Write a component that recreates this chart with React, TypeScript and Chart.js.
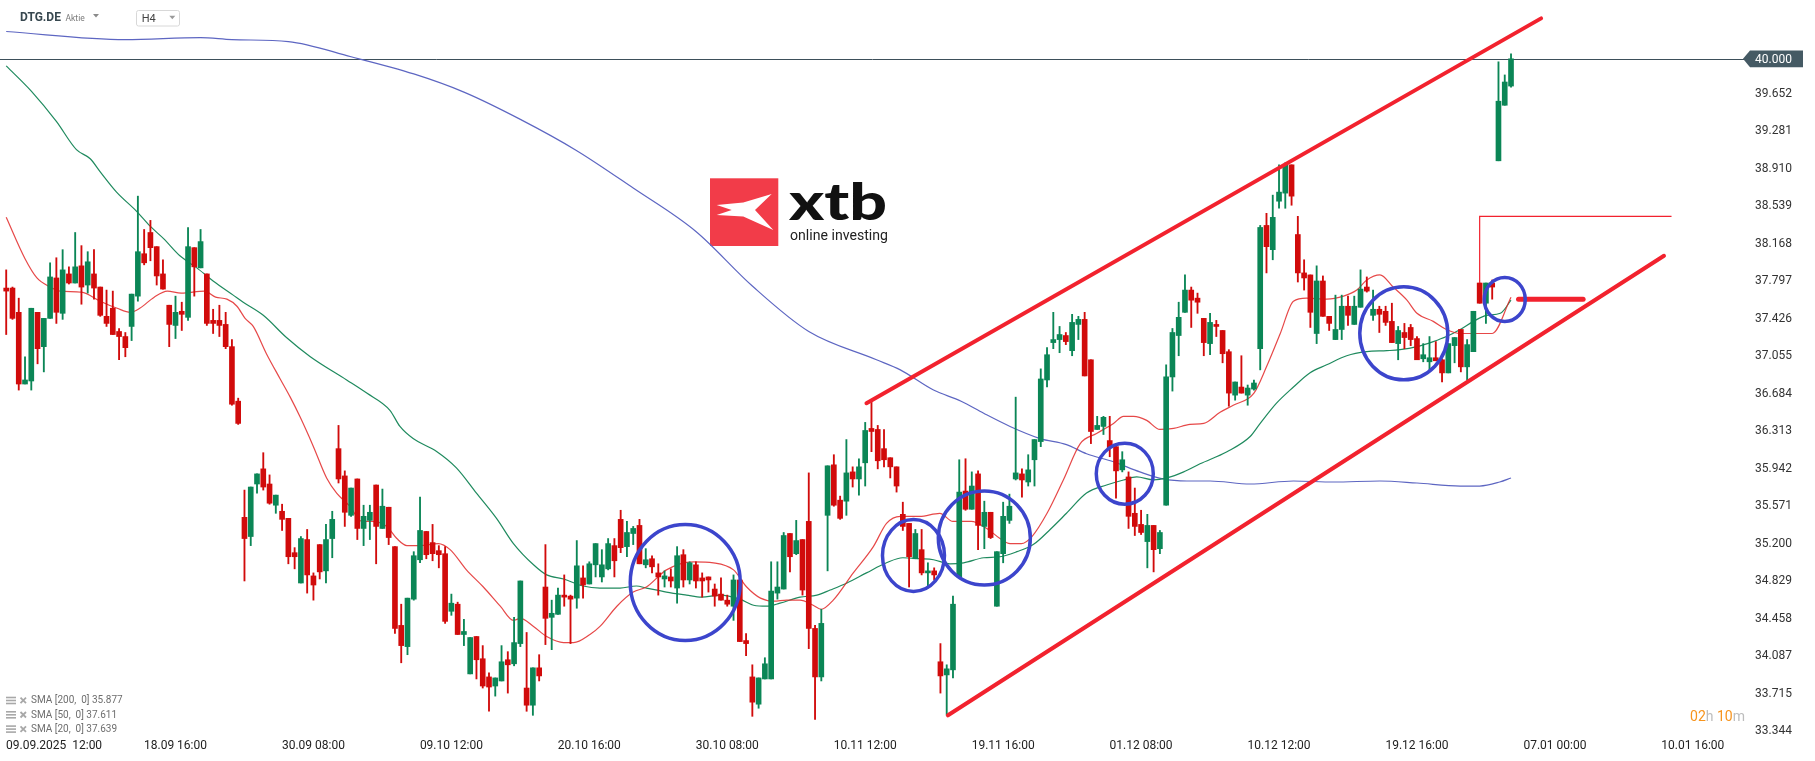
import React, { useEffect, useRef } from "react";
import { Chart, registerables } from "chart.js";

Chart.register(...registerables);

// ---------- DATA (H4 candles, index 0 = first visible candle) ----------
const opens = [
  37.73, 37.73, 37.49, 36.78, 36.81, 37.49, 37.15, 37.43, 37.83, 37.48,
  37.87, 37.78, 37.95, 37.76, 37.87, 37.74, 37.45, 37.53, 37.30, 37.25,
  37.35, 37.65, 38.07, 38.28, 38.14, 37.87, 37.56, 37.36, 37.50, 37.44,
  38.13, 37.93, 37.87, 37.41, 37.41, 37.37, 37.15, 36.61, 35.46, 35.27,
  35.79, 35.94, 35.79, 35.58, 35.52, 35.45, 35.11, 34.81, 35.24, 34.88,
  35.19, 34.93, 35.25, 36.14, 35.87, 35.48, 35.84, 35.35, 35.43, 35.78,
  35.35, 35.56, 35.17, 34.39, 34.18, 34.65, 35.04, 35.32, 35.21, 35.13,
  35.10, 34.53, 34.60, 34.30, 33.91, 34.28, 34.06, 33.88, 33.79, 33.84,
  34.05, 34.01, 34.21, 33.77, 33.60, 33.97, 34.77, 34.47, 34.50, 34.69,
  34.68, 34.66, 34.86, 34.80, 34.99, 34.87, 34.95, 35.18, 35.44, 35.17,
  35.30, 35.38, 34.99, 35.05, 34.91, 34.85, 34.87, 34.76, 35.09, 34.84,
  34.99, 34.86, 34.87, 34.75, 34.70, 34.64, 34.58, 34.84, 34.24, 33.88,
  33.61, 33.86, 33.86, 34.71, 34.75, 35.30, 35.10, 35.24, 35.42, 34.36,
  33.88, 35.48, 35.98, 35.63, 35.62, 35.91, 35.84, 36.00, 36.34, 36.33,
  36.14, 36.05, 35.96, 35.49, 35.40, 35.05, 35.14, 34.91, 34.93, 34.03,
  33.90, 33.95, 34.87, 35.72, 35.54, 35.89, 35.37, 35.51, 34.58, 35.10,
  35.43, 35.84, 35.89, 35.81, 36.03, 36.21, 36.82, 37.19, 37.22, 37.26,
  37.11, 37.37, 37.42, 37.02, 36.33, 36.36, 36.22, 36.16, 35.93, 35.86,
  35.50, 35.39, 35.22, 35.38, 35.15, 35.58, 36.85, 37.26, 37.49, 37.71,
  37.63, 37.43, 37.18, 37.37, 37.31, 37.10, 36.67, 36.75, 36.67, 36.73,
  37.13, 38.35, 38.11, 38.59, 38.67, 38.95, 38.26, 37.88, 37.86, 37.28,
  37.80, 37.45, 37.22, 37.32, 37.55, 37.37, 37.54, 37.74, 37.46, 37.52,
  37.50, 37.40, 37.18, 37.29, 37.34, 37.23, 37.03, 37.00, 37.04, 37.02,
  36.89, 37.16, 37.32, 36.95, 37.10, 37.78, 37.58, 37.78, 38.99, 39.54,
  39.73,
];
const highs = [
  37.91, 37.74, 37.63, 37.05, 37.53, 37.49, 37.43, 37.98, 38.03, 38.11,
  37.94, 38.28, 38.15, 38.09, 38.11, 37.74, 37.71, 37.70, 37.33, 37.29,
  37.67, 38.64, 38.31, 38.40, 38.14, 38.01, 37.56, 37.65, 37.59, 38.33,
  38.13, 38.31, 37.87, 37.52, 37.56, 37.49, 37.22, 36.64, 35.73, 35.76,
  35.89, 36.10, 35.88, 35.68, 35.59, 35.45, 35.16, 35.27, 35.34, 34.91,
  35.19, 35.39, 35.52, 36.37, 35.92, 35.75, 35.84, 35.58, 35.58, 35.78,
  35.74, 35.56, 35.17, 34.60, 34.66, 35.12, 35.66, 35.32, 35.39, 35.18,
  35.17, 34.70, 34.62, 34.45, 34.27, 34.28, 34.19, 33.92, 33.87, 34.19,
  34.13, 34.47, 34.83, 34.32, 33.97, 34.10, 35.19, 34.64, 34.76, 34.89,
  34.69, 35.23, 34.98, 35.02, 35.20, 35.14, 35.25, 35.25, 35.53, 35.42,
  35.37, 35.44, 35.15, 35.08, 35.00, 34.93, 34.95, 35.17, 35.14, 35.02,
  35.02, 34.91, 34.87, 34.80, 34.86, 34.69, 34.89, 34.84, 34.31, 34.00,
  33.87, 34.07, 35.02, 35.02, 35.31, 35.30, 35.43, 35.24, 35.90, 34.39,
  34.55, 35.97, 36.08, 35.67, 36.23, 35.96, 36.04, 36.40, 36.61, 36.37,
  36.33, 36.05, 35.96, 35.61, 35.40, 35.34, 35.34, 35.01, 34.96, 34.21,
  34.00, 34.68, 36.03, 36.04, 35.91, 35.92, 35.62, 35.51, 35.12, 35.61,
  35.69, 36.65, 35.94, 36.08, 36.23, 36.93, 37.14, 37.49, 37.35, 37.29,
  37.47, 37.45, 37.49, 37.02, 36.46, 36.46, 36.46, 36.19, 36.11, 35.91,
  35.75, 35.53, 35.49, 35.38, 35.33, 36.97, 37.33, 37.59, 37.86, 37.74,
  37.68, 37.43, 37.48, 37.41, 37.31, 37.12, 36.80, 37.06, 36.77, 36.82,
  38.35, 38.47, 38.65, 38.95, 38.97, 38.95, 38.44, 38.01, 37.86, 37.95,
  37.85, 37.45, 37.66, 37.66, 37.65, 37.65, 37.91, 37.84, 37.71, 37.55,
  37.55, 37.58, 37.35, 37.38, 37.37, 37.25, 37.18, 37.25, 37.20, 37.03,
  37.18, 37.24, 37.32, 37.22, 37.50, 37.78, 37.78, 37.81, 39.97, 39.84,
  40.05,
];
const lows = [
  37.27, 37.42, 36.72, 36.78, 36.72, 36.98, 36.90, 37.43, 37.38, 37.42,
  37.77, 37.78, 37.57, 37.68, 37.62, 37.45, 37.35, 37.27, 37.02, 37.05,
  37.21, 37.60, 37.96, 38.00, 37.76, 37.72, 37.15, 37.23, 37.31, 37.41,
  37.65, 37.93, 37.36, 37.28, 37.25, 37.13, 36.57, 36.38, 34.83, 35.18,
  35.70, 35.73, 35.59, 35.50, 35.33, 35.00, 34.95, 34.81, 34.71, 34.64,
  34.85, 34.81, 35.06, 35.80, 35.37, 35.47, 35.24, 35.18, 35.24, 35.00,
  35.35, 35.19, 34.31, 34.02, 34.10, 34.64, 35.01, 35.05, 35.03, 34.96,
  34.41, 34.49, 34.30, 34.19, 33.91, 33.86, 33.77, 33.54, 33.69, 33.84,
  33.72, 33.99, 34.18, 33.54, 33.50, 33.84, 34.20, 34.15, 34.50, 34.58,
  34.21, 34.56, 34.66, 34.80, 34.87, 34.82, 34.94, 34.87, 35.11, 35.07,
  35.19, 35.00, 34.96, 34.91, 34.69, 34.77, 34.77, 34.61, 34.77, 34.80,
  34.76, 34.67, 34.72, 34.58, 34.64, 34.58, 34.44, 34.23, 34.09, 33.49,
  33.57, 33.86, 33.86, 34.65, 34.75, 34.92, 35.09, 34.69, 34.16, 33.46,
  33.84, 34.93, 35.57, 35.44, 35.48, 35.76, 35.68, 35.77, 36.11, 35.94,
  35.96, 35.85, 35.71, 35.33, 34.77, 35.05, 34.89, 34.76, 34.84, 33.72,
  33.50, 33.87, 34.87, 35.53, 35.54, 35.14, 35.15, 35.25, 34.58, 35.01,
  35.40, 35.83, 35.66, 35.77, 35.77, 36.16, 36.75, 37.13, 37.09, 37.17,
  37.06, 37.22, 36.86, 36.19, 36.33, 36.28, 36.06, 35.65, 35.91, 35.35,
  35.28, 35.29, 34.96, 34.92, 35.10, 35.58, 36.71, 37.06, 37.49, 37.34,
  37.48, 37.06, 37.07, 37.25, 36.99, 36.56, 36.62, 36.69, 36.57, 36.72,
  36.92, 37.88, 38.01, 38.52, 38.52, 38.55, 37.79, 37.71, 37.34, 37.18,
  37.45, 37.31, 37.22, 37.22, 37.36, 37.37, 37.54, 37.69, 37.41, 37.29,
  37.36, 37.19, 37.02, 37.13, 37.16, 37.02, 37.00, 36.92, 37.01, 36.80,
  36.89, 36.99, 36.90, 36.82, 37.10, 37.58, 37.38, 37.62, 38.99, 39.54,
  39.72,
];
const closes = [
  37.70, 37.43, 36.78, 36.82, 37.53, 37.13, 37.43, 37.84, 37.49, 37.91,
  37.78, 37.94, 37.74, 37.99, 37.73, 37.46, 37.38, 37.27, 37.25, 37.14,
  37.67, 38.09, 37.98, 38.13, 37.85, 37.72, 37.37, 37.49, 37.47, 38.14,
  37.94, 38.19, 37.38, 37.38, 37.36, 37.15, 36.58, 36.39, 35.25, 35.76,
  35.89, 35.76, 35.60, 35.68, 35.44, 35.07, 35.07, 35.25, 34.89, 34.79,
  34.92, 35.24, 35.44, 35.84, 35.51, 35.75, 35.35, 35.47, 35.51, 35.37,
  35.57, 35.26, 34.36, 34.19, 34.66, 35.08, 35.33, 35.09, 35.10, 35.09,
  34.43, 34.61, 34.30, 34.33, 34.27, 34.05, 33.79, 33.78, 33.87, 34.03,
  34.00, 34.22, 34.83, 33.60, 33.97, 33.89, 34.46, 34.51, 34.69, 34.67,
  34.65, 34.98, 34.79, 35.00, 35.20, 34.99, 35.20, 35.03, 35.16, 35.31,
  35.35, 35.00, 35.04, 34.97, 34.87, 34.88, 34.83, 35.08, 34.84, 35.01,
  34.83, 34.83, 34.84, 34.68, 34.64, 34.60, 34.84, 34.23, 34.21, 33.63,
  33.87, 34.01, 34.73, 34.77, 35.28, 35.07, 35.23, 34.74, 34.36, 33.88,
  34.41, 35.97, 35.58, 35.45, 35.90, 35.84, 35.96, 36.32, 36.31, 36.02,
  36.03, 35.96, 35.77, 35.37, 35.07, 35.30, 34.91, 34.93, 34.89, 33.89,
  33.96, 34.60, 35.71, 35.54, 35.77, 35.38, 35.51, 35.26, 35.12, 35.47,
  35.57, 35.90, 35.83, 35.93, 36.23, 36.83, 37.07, 37.22, 37.27, 37.20,
  37.39, 37.42, 36.86, 36.31, 36.37, 36.45, 36.15, 35.92, 36.03, 35.47,
  35.37, 35.31, 35.38, 35.14, 35.31, 36.85, 37.29, 37.44, 37.71, 37.61,
  37.59, 37.19, 37.39, 37.35, 37.08, 36.69, 36.80, 36.69, 36.74, 36.79,
  38.33, 38.14, 38.43, 38.68, 38.95, 38.64, 37.88, 37.83, 37.49, 37.80,
  37.45, 37.38, 37.32, 37.55, 37.46, 37.55, 37.72, 37.70, 37.52, 37.47,
  37.39, 37.19, 37.31, 37.24, 37.22, 37.02, 37.07, 37.04, 37.01, 36.89,
  37.18, 37.24, 36.95, 37.17, 37.50, 37.58, 37.78, 37.74, 39.58, 39.77,
  40.00,
];

// moving averages: [candle index, value]
const sma200 = [
  [0, 40.27], [19, 40.19], [31, 40.21], [36, 40.19], [45, 40.17], [55, 40.02],
  [65, 39.85], [73, 39.67], [82, 39.40], [91, 39.09], [100, 38.72], [110, 38.29],
  [119, 37.75], [128, 37.30], [138.8, 37.02], [142.6, 36.92], [147.9, 36.72],
  [152.3, 36.61], [155.9, 36.49], [160.1, 36.36], [164.9, 36.24], [169.1, 36.18],
  [172.3, 36.09], [176.6, 36.01], [180.8, 35.91], [184.5, 35.84], [188.3, 35.82],
  [192, 35.82], [198.4, 35.79], [205.3, 35.82], [211.7, 35.81], [219.1, 35.82],
  [225, 35.80], [231.9, 35.77], [235, 35.77], [238.2, 35.81], [240, 35.85],
];
const sma50 = [
  [0, 39.93], [4, 39.68], [8, 39.38], [11.2, 39.10], [13.4, 39.01], [15, 38.88],
  [17.6, 38.68], [20.8, 38.49], [23, 38.34], [25.1, 38.22], [27.7, 38.05],
  [30.4, 37.93], [33, 37.80], [36.2, 37.66], [37.8, 37.59], [41, 37.46],
  [44.7, 37.24], [48.5, 37.05], [54.3, 36.82], [57.5, 36.69], [61.2, 36.52],
  [62.8, 36.36], [64.9, 36.24], [68.7, 36.11], [71.8, 35.95], [75, 35.70],
  [78.2, 35.45], [80.9, 35.20], [84.1, 34.99], [86.2, 34.89], [88.9, 34.85],
  [92, 34.78], [94.7, 34.76], [97.9, 34.76], [100.5, 34.78], [102.1, 34.76],
  [105.3, 34.72], [108.5, 34.69], [110.9, 34.67], [113.9, 34.69], [117, 34.65],
  [119.2, 34.59], [121.3, 34.58], [123.4, 34.61], [126.6, 34.67], [129.3, 34.69],
  [131.4, 34.74], [134.1, 34.81], [137.2, 34.91], [140.4, 35.01], [143, 35.06],
  [145.7, 35.05], [147.9, 35.04], [150.5, 35.00], [152.7, 35.01], [155.9, 35.06],
  [158.5, 35.07], [161.2, 35.12], [163.8, 35.19], [166.5, 35.34], [169.1, 35.50],
  [172.3, 35.70], [175.5, 35.78], [178.2, 35.83], [180.3, 35.86], [183, 35.83],
  [185.1, 35.85], [187.8, 35.91], [190.4, 35.99], [194.7, 36.11], [198.4, 36.26],
  [200, 36.39], [202.6, 36.59], [205.3, 36.75], [207.9, 36.89], [210.6, 36.97],
  [213.8, 37.06], [217, 37.10], [220.2, 37.11], [222.3, 37.12], [225, 37.15],
  [227.6, 37.20], [229.7, 37.25], [231.9, 37.32], [234, 37.40], [236.1, 37.46],
  [238.3, 37.48], [240, 37.61],
];
const sma20 = [
  [0, 38.43], [3, 38.02], [4.9, 37.83], [7, 37.74], [8.6, 37.70], [12, 37.69],
  [15, 37.60], [17.7, 37.53], [19.8, 37.49], [21.3, 37.53], [23.6, 37.64],
  [25.7, 37.70], [27.9, 37.68], [31.6, 37.70], [33.4, 37.64], [35.2, 37.62],
  [36.8, 37.55], [38.1, 37.43], [39.4, 37.35], [41.5, 37.08], [43.7, 36.83],
  [45.3, 36.65], [46.9, 36.45], [49, 36.16], [51.1, 35.85], [52.7, 35.70],
  [54.8, 35.57], [56.7, 35.42], [58.3, 35.42], [60.7, 35.37], [62.3, 35.25],
  [63.9, 35.18], [66, 35.18], [68.9, 35.20], [70.8, 35.14], [73.4, 34.94],
  [76.1, 34.77], [78.8, 34.58], [80.9, 34.44], [82, 34.46], [84.1, 34.38],
  [86.2, 34.28], [88.9, 34.22], [90.5, 34.22], [93.1, 34.30], [94.7, 34.38],
  [97.4, 34.58], [100, 34.72], [102.1, 34.77], [105.3, 34.94], [109.6, 35.02],
  [112.8, 35.01], [116, 34.94], [118.1, 34.77], [120.3, 34.66], [122.4, 34.63],
  [124.5, 34.64], [126.6, 34.64], [128.7, 34.59], [130, 34.55], [131.9, 34.64],
  [135.1, 34.91], [138.3, 35.17], [140.4, 35.40], [142.6, 35.47], [145.7, 35.47],
  [148.9, 35.50], [151, 35.42], [153.9, 35.42], [156.4, 35.35], [158.5, 35.25],
  [160.1, 35.20], [161.9, 35.20], [163.6, 35.27], [166, 35.50], [168.6, 35.83],
  [171.3, 36.19], [173.9, 36.29], [176.6, 36.39], [178.2, 36.46], [179.8, 36.46],
  [181.9, 36.42], [184, 36.33], [186.2, 36.34], [188.8, 36.38], [191, 36.39],
  [193.6, 36.50], [195.7, 36.57], [199, 36.69], [201, 36.95], [203.2, 37.28],
  [205.3, 37.60], [207.4, 37.63], [210.6, 37.62], [213.3, 37.65], [215.4, 37.71],
  [217, 37.81], [219.1, 37.86], [221.2, 37.74], [223.4, 37.61], [225, 37.48],
  [227.6, 37.40], [229.7, 37.32], [231.9, 37.28], [237, 37.28], [240, 37.64],
];

// axis ticks
const xTickIdx = [5, 27, 49, 71, 93, 115, 137, 159, 181, 203, 225, 247, 269];
const xTickLabels = [
  "09.09.2025  12:00", "18.09 16:00", "30.09 08:00", "09.10 12:00", "20.10 16:00",
  "30.10 08:00", "10.11 12:00", "19.11 16:00", "01.12 08:00", "10.12 12:00",
  "19.12 16:00", "07.01 00:00", "10.01 16:00",
];
const yTicks = [
  39.652, 39.281, 38.91, 38.539, 38.168, 37.797, 37.426, 37.055, 36.684,
  36.313, 35.942, 35.571, 35.2, 34.829, 34.458, 34.087, 33.715, 33.344,
];

// drawings on the chart: [candle index, price]
const upperChannel = [[137.2, 36.59], [244.8, 40.40]];
const lowerChannel = [[150.2, 33.50], [264.4, 38.05]];
const markerLine = [[235, 37.78], [235, 38.44], [265.6, 38.44]];
const targetStub = [[241.2, 37.62], [251.5, 37.62]];
const circleCenters = [
  [108.3, 34.815], [144.7, 35.082], [156.0, 35.255], [178.4, 35.892],
  [222.9, 37.282], [239.0, 37.617],
];
const legendRows = ["SMA [200,  0] 35.877", "SMA [50,  0] 37.611", "SMA [20,  0] 37.639"];
const symbolName = "DTG.DE";
const symbolType = "Aktie";
const timeframe = "H4";
const lastPrice = 40.0;
const countdown = ["02", "h", " 10", "m"];

// ---------- STYLE ----------
const GREEN = "#0b8656";
const RED = "#d10b0b";
const circleRadii = [[55, 58], [31, 36], [46, 47], [28.5, 30.5], [44, 46.5], [20.5, 22]];
const X_MIN = -0.99;
const X_MAX = 276.84;
const Y_MIN = 33.305;
const Y_MAX = 40.582;
const FONT = "Roboto, 'Noto Sans', sans-serif";

Chart.defaults.font.family = FONT;

const pts = (a: number[][]) => a.map(([x, y]) => ({ x, y }));

const overlayPlugin = {
  id: "overlay",
  beforeDatasetsDraw(chart: any) {
    const { ctx } = chart;
    const ys = chart.scales.y;
    // watermark logo
    ctx.save();
    const sx = 710, sy = 178.3;
    ctx.fillStyle = "#f23c49";
    ctx.fillRect(sx, sy, 68.3, 67.7);
    ctx.fillStyle = "#ffffff";
    ctx.beginPath();
    const xs = [[6.7, 26.7], [33.3, 24.3], [61.7, 15.7], [45, 31.7], [63.3, 51.7], [33.3, 38.3], [6.7, 36.7], [21.7, 31.7]];
    xs.forEach(([a, b], i) => (i ? ctx.lineTo(sx + a, sy + b) : ctx.moveTo(sx + a, sy + b)));
    ctx.closePath();
    ctx.fill();
    ctx.fillStyle = "#111";
    ctx.textBaseline = "alphabetic";
    ctx.font = "900 52px Lato, Roboto, sans-serif";
    let w = ctx.measureText("xtb").width;
    ctx.save();
    ctx.translate(789, 220);
    ctx.scale(98 / w, 1);
    ctx.fillText("xtb", 0, 0);
    ctx.restore();
    ctx.font = "14px Roboto, sans-serif";
    ctx.fillStyle = "#222";
    w = ctx.measureText("online investing").width;
    ctx.save();
    ctx.translate(790, 240);
    ctx.scale(98 / w, 1);
    ctx.fillText("online investing", 0, 0);
    ctx.restore();
    // last price line
    const py = Math.round(ys.getPixelForValue(lastPrice)) + 0.5;
    ctx.strokeStyle = "#3d4f5a";
    ctx.lineWidth = 1;
    ctx.beginPath();
    ctx.moveTo(0, py);
    ctx.lineTo(1745, py);
    ctx.stroke();
    ctx.restore();
  },
  afterDatasetsDraw(chart: any) {
    const { ctx } = chart;
    const xs = chart.scales.x;
    const ys = chart.scales.y;
    ctx.save();
    // circles
    ctx.strokeStyle = "#3c45cc";
    ctx.lineWidth = 3.5;
    circleCenters.forEach(([i, v], k) => {
      const [rx, ry] = circleRadii[k];
      ctx.beginPath();
      ctx.ellipse(xs.getPixelForValue(i), ys.getPixelForValue(v), rx, ry, 0, 0, Math.PI * 2);
      ctx.stroke();
    });
    ctx.restore();
  },
  afterDraw(chart: any) {
    const { ctx } = chart;
    const xs = chart.scales.x;
    const ys = chart.scales.y;
    ctx.save();
    // price tag
    const py = ys.getPixelForValue(lastPrice);
    ctx.fillStyle = "#455a64";
    ctx.beginPath();
    ctx.moveTo(1743, py);
    ctx.lineTo(1750, py - 8.3);
    ctx.lineTo(1803, py - 8.3);
    ctx.lineTo(1803, py + 8.4);
    ctx.lineTo(1750, py + 8.4);
    ctx.closePath();
    ctx.fill();
    ctx.fillStyle = "#fff";
    ctx.font = `12px ${FONT}`;
    ctx.textBaseline = "middle";
    ctx.textAlign = "left";
    ctx.fillText(lastPrice.toFixed(3), 1755, py + 0.8);
    // first time label (clamped to the left edge)
    ctx.fillStyle = "#222";
    ctx.fillText(xTickLabels[0], Math.max(6, xs.getPixelForValue(xTickIdx[0]) - 49), 745.5);
    // header
    ctx.font = `bold 12px ${FONT}`;
    ctx.fillStyle = "#37474f";
    ctx.fillText(symbolName, 20, 18);
    ctx.font = `8.5px ${FONT}`;
    ctx.fillStyle = "#7a7a7a";
    ctx.fillText(symbolType, 65.5, 19);
    const tri = (x: number, y: number, c: string) => {
      ctx.fillStyle = c;
      ctx.beginPath();
      ctx.moveTo(x, y);
      ctx.lineTo(x + 6, y);
      ctx.lineTo(x + 3, y + 3.5);
      ctx.closePath();
      ctx.fill();
    };
    tri(93, 14, "#8a8a8a");
    ctx.strokeStyle = "#d8d8d8";
    ctx.lineWidth = 1;
    ctx.beginPath();
    ctx.roundRect(136.5, 10.5, 43, 15.5, 2);
    ctx.stroke();
    ctx.font = `11px ${FONT}`;
    ctx.fillStyle = "#444";
    ctx.fillText(timeframe, 141.7, 18.8);
    tri(169.3, 15.8, "#9a9a9a");
    // legend rows
    legendRows.forEach((t, k) => {
      const y = 700.7 + k * 14.3;
      ctx.fillStyle = "#a8a8a8";
      for (let j = 0; j < 3; j++) ctx.fillRect(6, y - 4 + j * 3, 10, 1.6);
      ctx.strokeStyle = "#a8a8a8";
      ctx.lineWidth = 1.8;
      ctx.beginPath();
      ctx.moveTo(20.5, y - 3);
      ctx.lineTo(26, y + 2.5);
      ctx.moveTo(26, y - 3);
      ctx.lineTo(20.5, y + 2.5);
      ctx.stroke();
      ctx.font = `10px ${FONT}`;
      ctx.fillStyle = "#6e6e6e";
      ctx.fillText(t, 31, y);
    });
    // countdown
    ctx.font = `14px ${FONT}`;
    const total = countdown.reduce((s, t) => s + ctx.measureText(t).width, 0);
    let cx = 1745 - total;
    countdown.forEach((t, k) => {
      ctx.fillStyle = k % 2 === 0 ? "#f7941d" : "#bdbdbd";
      ctx.fillText(t, cx, 717);
      cx += ctx.measureText(t).width;
    });
    ctx.restore();
  },
};

export default function App() {
  const ref = useRef<HTMLCanvasElement>(null);
  useEffect(() => {
    document.body.style.margin = "0";
    const colors = opens.map((o, i) => (closes[i] >= o ? GREEN : RED));
    const bodies = opens.map((o, i) => ({ x: i, y: [o, closes[i]] }));
    const wicks = opens.map((o, i) => ({ x: i, y: [lows[i], highs[i]] }));
    const lineDs = (data: number[][], color: string, width: number, order: number, extra: any = {}) => ({
      type: "line",
      data: pts(data),
      borderColor: color,
      borderWidth: width,
      pointRadius: 0,
      fill: false,
      order,
      ...extra,
    });
    const chart = new Chart(ref.current as HTMLCanvasElement, {
      type: "bar",
      data: {
        datasets: [
          lineDs(upperChannel, "#f2222e", 4, 0, { borderCapStyle: "round" }),
          lineDs(lowerChannel, "#f2222e", 4, 0, { borderCapStyle: "round" }),
          lineDs(targetStub, "#f2222e", 5, 0, { borderCapStyle: "round" }),
          lineDs(markerLine, "#f2222e", 1.2, 0),
          { type: "bar", data: bodies, backgroundColor: colors, barThickness: 5, grouped: false, minBarLength: 1, order: 1 },
          { type: "bar", data: wicks, backgroundColor: colors, barThickness: 1.2, grouped: false, minBarLength: 1, order: 2 },
          lineDs(sma20, "rgba(226,40,40,0.85)", 1.2, 3, { cubicInterpolationMode: "monotone" }),
          lineDs(sma50, "#1f8a5e", 1.2, 4, { cubicInterpolationMode: "monotone" }),
          lineDs(sma200, "#5d66c2", 1.2, 5, { cubicInterpolationMode: "monotone" }),
        ] as any,
      },
      options: {
        responsive: false,
        animation: false,
        devicePixelRatio: 1,
        events: [],
        layout: { padding: 0 },
        plugins: { legend: { display: false }, tooltip: { enabled: false }, title: { display: false } },
        scales: {
          x: {
            type: "linear",
            min: X_MIN,
            max: X_MAX,
            offset: false,
            grid: { display: false, drawTicks: false, offset: false },
            border: { display: false },
            afterBuildTicks: (s: any) => {
              s.ticks = xTickIdx.map((v) => ({ value: v }));
            },
            afterFit: (s: any) => {
              s.height = 26;
              s.paddingLeft = 0;
              s.paddingRight = 0;
            },
            ticks: {
              autoSkip: false,
              maxRotation: 0,
              minRotation: 0,
              padding: 4,
              color: "#222",
              font: { size: 12, family: FONT },
              callback: (_v: any, i: number) => (i === 0 ? "" : xTickLabels[i]),
            },
          },
          y: {
            type: "linear",
            position: "right",
            min: Y_MIN,
            max: Y_MAX,
            grid: { display: false, drawTicks: false },
            border: { display: false },
            afterBuildTicks: (s: any) => {
              s.ticks = yTicks.map((v) => ({ value: v }));
            },
            afterFit: (s: any) => {
              s.width = 73;
              s.paddingTop = 0;
              s.paddingBottom = 0;
            },
            ticks: {
              autoSkip: false,
              padding: 13,
              color: "#333",
              font: { size: 12, family: FONT },
              callback: (v: any) => Number(v).toFixed(3),
            },
          },
        },
      } as any,
      plugins: [overlayPlugin],
    });
    return () => chart.destroy();
  }, []);
  return (
    <div style={{ width: 1815, height: 761, background: "#fff" }}>
      <canvas ref={ref} width={1815} height={761} style={{ display: "block" }} />
    </div>
  );
}
